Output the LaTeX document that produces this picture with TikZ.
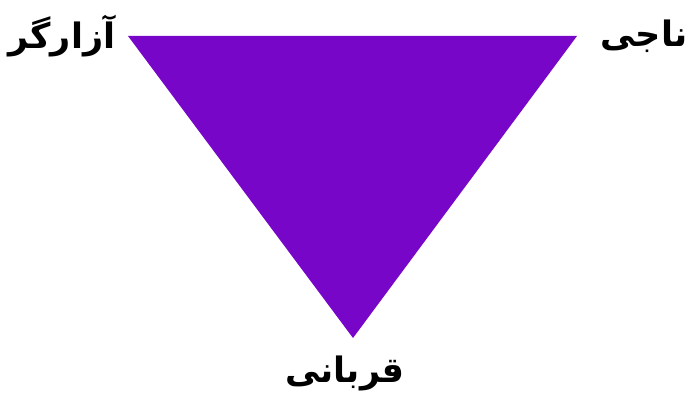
\documentclass[tikz,border=0pt]{standalone}
\usepackage{fontspec}
\TeXXeTstate=1
\newfontfamily\arabicfont[Script=Arabic]{DejaVu Sans}
\definecolor{tripurple}{HTML}{7806C8}
\begin{document}
\begin{tikzpicture}[x=1pt,y=1pt,
  lbl/.style={font=\arabicfont\bfseries\fontsize{35}{40}\selectfont, text=black, inner sep=0pt}]
\useasboundingbox (0,0) rectangle (700,400);
\coordinate (tl) at (128,364);
\coordinate (tr) at (577,364);
\coordinate (bt) at (353,62);
\fill[tripurple] (tl) -- (tr) -- (bt) -- cycle;
\node[lbl] (abuser) at (62,364) {\beginR آزارگر\endR};
\node[lbl] (rescuer) at (644,364) {\beginR ناجی\endR};
\node[lbl] (victim) at (345,27) {\beginR قربانی\endR};
\end{tikzpicture}
\end{document}
